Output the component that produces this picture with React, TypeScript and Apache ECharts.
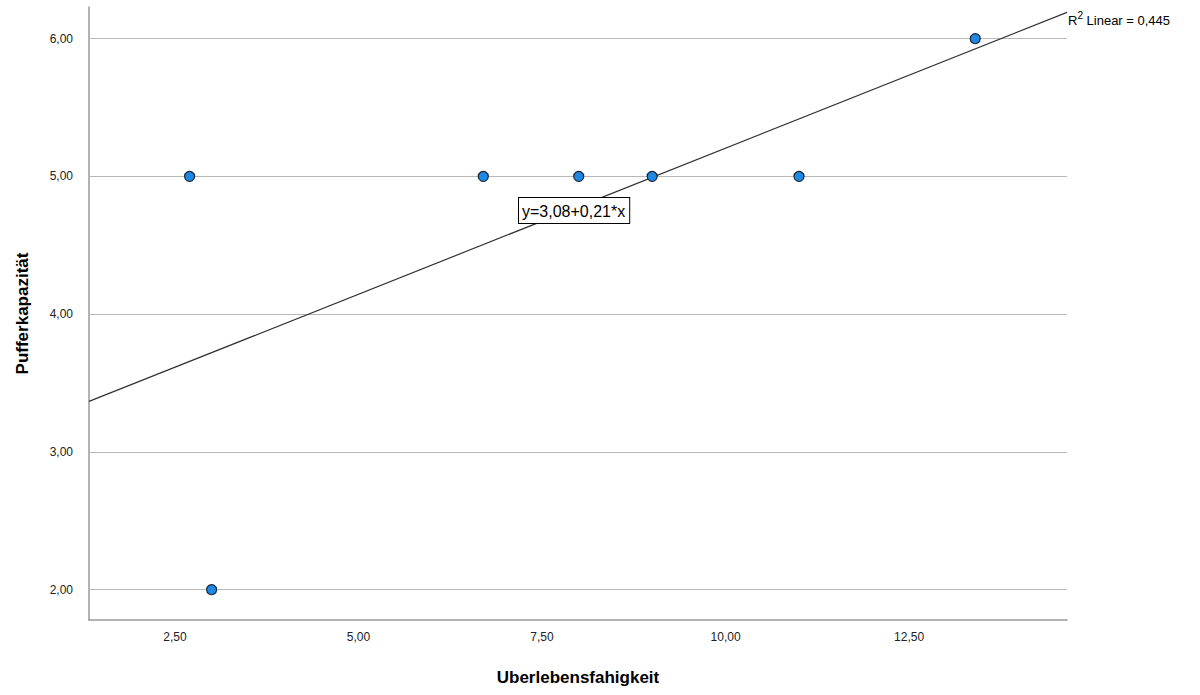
import React, { useEffect, useRef } from "react";
import * as echarts from "echarts";

const xValues = [2.7, 6.7, 8.0, 9.0, 11.0, 13.4, 3.0];
const yValues = [5, 5, 5, 5, 5, 6, 2];
const xTicks = [2.5, 5.0, 7.5, 10.0, 12.5];
const yTicks = [2, 3, 4, 5, 6];
const xRange = [1.33, 14.65];
const yRange = [1.78, 6.23];
const equationText = "y=3,08+0,21*x";
const r2Text = "0,445";
const xTitle = "Uberlebensfahigkeit";
const yTitle = "Pufferkapazität";

function fit(xs: number[], ys: number[]) {
  const n = xs.length;
  const mx = xs.reduce((a, b) => a + b, 0) / n;
  const my = ys.reduce((a, b) => a + b, 0) / n;
  let sxy = 0;
  let sxx = 0;
  for (let i = 0; i < n; i++) {
    sxy += (xs[i] - mx) * (ys[i] - my);
    sxx += (xs[i] - mx) * (xs[i] - mx);
  }
  const b = sxy / sxx;
  return { a: my - b * mx, b };
}

const fmt = (v: number) => v.toFixed(2).replace(".", ",");
const FONT = "'Liberation Sans', Arial, sans-serif";

export default function App() {
  const ref = useRef<HTMLDivElement>(null);
  useEffect(() => {
    if (!ref.current) return;
    const chart = echarts.init(ref.current, null, { renderer: "svg" });
    const { a, b } = fit(xValues, yValues);
    const lineData = xRange.map((x) => [x, a + b * x]);
    chart.setOption({
      animation: false,
      backgroundColor: "#ffffff",
      textStyle: { fontFamily: FONT },
      grid: { left: 89, right: 133, top: 7, bottom: 75 },
      xAxis: {
        type: "value",
        min: xRange[0],
        max: xRange[1],
        name: xTitle,
        nameLocation: "middle",
        nameGap: 49,
        nameTextStyle: { fontSize: 17, fontWeight: "bold", color: "#000", fontFamily: FONT },
        axisLine: { show: true, onZero: false, lineStyle: { color: "#9a9a9a", width: 1.5 } },
        axisTick: { show: false, customValues: xTicks },
        axisLabel: {
          customValues: xTicks,
          formatter: (v: number) => fmt(v),
          fontSize: 12,
          color: "#222",
          margin: 11,
          fontFamily: FONT,
        },
        splitLine: { show: false },
      },
      yAxis: {
        type: "value",
        min: yRange[0],
        max: yRange[1],
        name: yTitle,
        nameLocation: "middle",
        nameGap: 58,
        nameTextStyle: { fontSize: 17, fontWeight: "bold", color: "#000", fontFamily: FONT },
        axisLine: { show: true, onZero: false, lineStyle: { color: "#9a9a9a", width: 1.5 } },
        axisTick: { show: false, customValues: yTicks },
        axisLabel: {
          customValues: yTicks,
          formatter: (v: number) => fmt(v),
          fontSize: 12,
          color: "#222",
          margin: 16,
          fontFamily: FONT,
        },
        splitLine: { show: false },
      },
      series: [
        {
          type: "line",
          data: lineData,
          symbol: "none",
          lineStyle: { color: "#333333", width: 1.2 },
          z: 3,
          silent: true,
          markLine: {
            silent: true,
            symbol: "none",
            label: { show: false },
            lineStyle: { color: "#b8b8b8", width: 1, type: "solid" },
            data: yTicks.map((t) => ({ yAxis: t })),
            z: 1,
          },
        },
        {
          type: "scatter",
          data: xValues.map((x, i) => [x, yValues[i]]),
          symbol: "circle",
          symbolSize: 10,
          itemStyle: { color: "#1E88E5", borderColor: "#1b2838", borderWidth: 1.2, opacity: 1 },
          z: 4,
        },
      ],
      graphic: [
        {
          type: "text",
          z: 100,
          x: 519,
          y: 198,
          style: {
            text: equationText,
            fontSize: 16,
            fontFamily: FONT,
            fill: "#000",
            backgroundColor: "#ffffff",
            borderColor: "#000",
            borderWidth: 1,
            padding: [5, 4, 4, 3],
          },
        },
        {
          type: "text",
          z: 100,
          x: 1068,
          y: 10,
          style: {
            text: "{b|R}{s|2}{b| Linear = " + r2Text + "}",
            fontFamily: FONT,
            fill: "#000",
            rich: {
              b: { fontSize: 13, fontFamily: FONT, fill: "#000", verticalAlign: "bottom", lineHeight: 17 },
              s: { fontSize: 10, fontFamily: FONT, fill: "#000", verticalAlign: "top", lineHeight: 17, padding: [0, 0, 6, 0] },
            },
          },
        },
      ],
    });
    return () => chart.dispose();
  }, []);
  return (
    <div
      ref={ref}
      style={{ position: "absolute", left: 0, top: 0, width: 1200, height: 695 }}
    />
  );
}
